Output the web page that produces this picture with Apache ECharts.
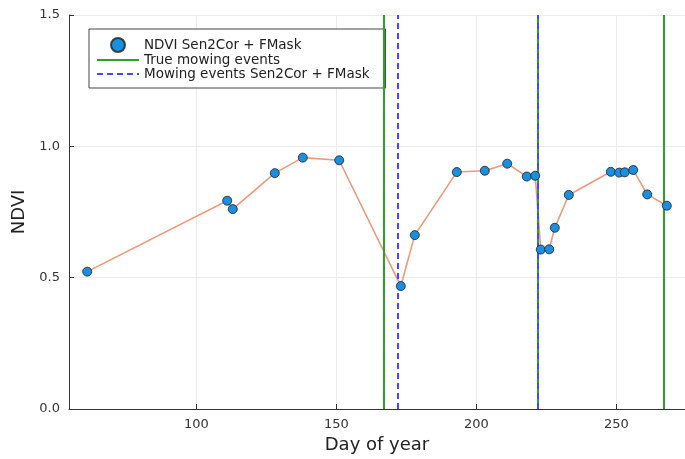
<!DOCTYPE html>
<html>
<head>
<meta charset="utf-8">
<script src="https://cdn.jsdelivr.net/npm/echarts@6/dist/echarts.min.js"></script>
<style>
html,body{margin:0;padding:0;background:#fff;}
#chart{width:685px;height:459px;}
</style>
</head>
<body>
<div id="chart"></div>
<script>
// ---- data ----
const days = [61, 111, 113, 128, 138, 151, 173, 178, 193, 203, 211, 218, 221, 223, 226, 228, 233, 248, 251, 253, 256, 261, 268];
const ndvi = [0.523, 0.793, 0.761, 0.898, 0.957, 0.947, 0.468, 0.662, 0.902, 0.907, 0.934, 0.885, 0.888, 0.607, 0.608, 0.690, 0.815, 0.903, 0.900, 0.901, 0.910, 0.817, 0.774];
const trueMowing = [167, 222, 267];
const detectedMowing = [172, 222];
const xTicks = [100, 150, 200, 250];
const seriesNames = ['NDVI Sen2Cor + FMask', 'True mowing events', 'Mowing events Sen2Cor + FMask'];

const FONT = 'DejaVu Sans';
const points = days.map((d, i) => [d, ndvi[i]]);

const chart = echarts.init(document.getElementById('chart'), null, {renderer: 'canvas'});
chart.setOption({
  backgroundColor: '#ffffff',
  animation: false,
  grid: {left: 69, right: -1, top: 15, bottom: 46, containLabel: false},
  xAxis: {
    type: 'value',
    min: 54.5,
    max: 274.5,
    name: 'Day of year',
    nameLocation: 'middle',
    nameGap: 27,
    nameTextStyle: {fontFamily: FONT, fontSize: 18, color: '#222'},
    axisLine: {show: true, onZero: false, lineStyle: {color: '#333', width: 1}},
    axisTick: {show: true, inside: true, length: 5, customValues: xTicks, lineStyle: {color: '#333'}},
    axisLabel: {show: true, customValues: xTicks, margin: 9, fontFamily: FONT, fontSize: 13, color: '#333'},
    splitLine: {show: true, lineStyle: {color: '#ebebeb', width: 1}}
  },
  yAxis: {
    type: 'value',
    min: 0,
    max: 1.5,
    interval: 0.5,
    name: 'NDVI',
    nameLocation: 'middle',
    nameGap: 41,
    nameRotate: 90,
    nameTextStyle: {fontFamily: FONT, fontSize: 18, color: '#222'},
    axisLine: {show: true, onZero: false, lineStyle: {color: '#333', width: 1}},
    axisTick: {show: true, inside: true, length: 5, lineStyle: {color: '#333'}},
    axisLabel: {show: true, margin: 9, fontFamily: FONT, fontSize: 13, color: '#333',
      formatter: v => v.toFixed(1)},
    splitLine: {show: true, lineStyle: {color: '#ebebeb', width: 1}}
  },
  legend: {
    show: true,
    orient: 'vertical',
    left: 89,
    top: 29,
    padding: [8, 16, 7, 7],
    itemGap: 0,
    itemWidth: 42,
    itemHeight: 14,
    backgroundColor: '#ffffff',
    borderColor: '#444',
    borderWidth: 1,
    borderRadius: 0,
    textStyle: {fontFamily: FONT, fontSize: 13.5, color: '#222', lineHeight: 14},
    data: [
      {name: seriesNames[0]},
      {name: seriesNames[1], itemStyle: {opacity: 0}},
      {name: seriesNames[2], itemStyle: {opacity: 0}}
    ]
  },
  series: [
    {
      name: 'ndvi-line',
      type: 'line',
      data: points,
      showSymbol: false,
      symbol: 'none',
      lineStyle: {color: '#EC9A7C', width: 1.6},
      itemStyle: {color: '#EC9A7C'},
      silent: true,
      z: 2
    },
    {
      name: seriesNames[1],
      type: 'line',
      data: [],
      symbol: 'none',
      lineStyle: {color: '#2E9E2E', width: 2},
      itemStyle: {color: '#2E9E2E'},
      markLine: {
        silent: true,
        symbol: ['none', 'none'],
        label: {show: false},
        lineStyle: {color: '#2E9E2E', width: 2, type: 'solid'},
        data: trueMowing.map(d => ({xAxis: d}))
      },
      z: 3
    },
    {
      name: seriesNames[2],
      type: 'line',
      data: [],
      symbol: 'none',
      lineStyle: {color: '#4646FF', width: 2, type: [6, 4]},
      itemStyle: {color: '#4646FF'},
      markLine: {
        silent: true,
        symbol: ['none', 'none'],
        label: {show: false},
        lineStyle: {color: '#4646FF', width: 2, type: [6, 4]},
        data: detectedMowing.map(d => ({xAxis: d}))
      },
      z: 4
    },
    {
      name: seriesNames[0],
      type: 'scatter',
      data: points,
      symbol: 'circle',
      symbolSize: 9,
      itemStyle: {color: '#1A8FE0', borderColor: 'rgba(30,30,30,0.8)', borderWidth: 1, opacity: 1},
      z: 5
    }
  ]
});
</script>
</body>
</html>
